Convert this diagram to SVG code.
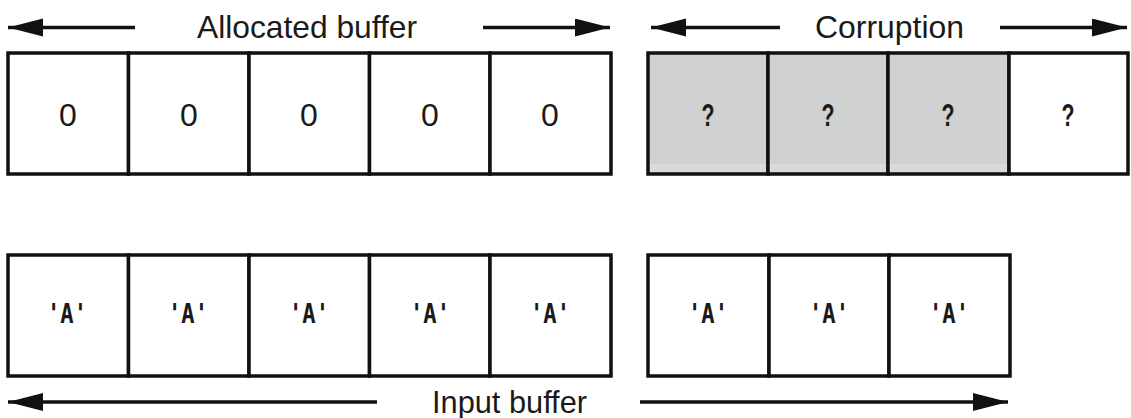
<svg xmlns="http://www.w3.org/2000/svg" width="1131" height="418" viewBox="0 0 1131 418">
<style>
.cell{fill:#ffffff;stroke:#111111;stroke-width:3.5}
.gray{fill:#d0d2d1}
.lbl{font-family:"Liberation Sans",Arial,sans-serif;font-size:32px;fill:#1a1a1a}
.zero{font-family:"Liberation Sans",Arial,sans-serif;font-size:32px;fill:#1a1a1a;text-anchor:middle}
.q{font-family:"Liberation Sans",Arial,sans-serif;font-size:32px;font-weight:bold;fill:#1a1a1a;text-anchor:middle}
.a{font-family:"DejaVu Sans Mono","Liberation Mono",monospace;font-size:27px;font-weight:bold;fill:#1a1a1a;text-anchor:middle}
.conn{stroke:#111111;stroke-width:3.5;fill:none;marker-end:url(#ah)}
</style>
<defs>
<marker id="ah" markerUnits="userSpaceOnUse" markerWidth="36" markerHeight="20" refX="35" refY="9" orient="auto">
<path d="M0,0 L35,9 L0,18 Z" fill="#111111"/>
</marker>
</defs>
<rect width="1131" height="418" fill="#ffffff"/>

<g id="labels">
<text id="lbl-allocated" class="lbl" x="197" y="38" textLength="220" lengthAdjust="spacingAndGlyphs">Allocated buffer</text>
<text id="lbl-corruption" class="lbl" x="815" y="38" textLength="149" lengthAdjust="spacingAndGlyphs">Corruption</text>
<text id="lbl-input" class="lbl" x="432" y="413" textLength="155" lengthAdjust="spacingAndGlyphs">Input buffer</text>
</g>

<g id="connectors">
<line class="conn" x1="135" y1="27.5" x2="8" y2="27.5"/>
<line class="conn" x1="483" y1="27.5" x2="610" y2="27.5"/>
<line class="conn" x1="780" y1="27.5" x2="651" y2="27.5"/>
<line class="conn" x1="1000" y1="27.5" x2="1127" y2="27.5"/>
<line class="conn" x1="377" y1="402" x2="8" y2="402"/>
<line class="conn" x1="640" y1="402" x2="1008" y2="402"/>
</g>

<g id="alloc-0"><rect class="cell" x="8" y="53" width="120.5" height="121"/><text class="zero" x="68" y="126">0</text></g>
<g id="alloc-1"><rect class="cell" x="128.5" y="53" width="120.5" height="121"/><text class="zero" x="189" y="126">0</text></g>
<g id="alloc-2"><rect class="cell" x="249" y="53" width="120.5" height="121"/><text class="zero" x="309" y="126">0</text></g>
<g id="alloc-3"><rect class="cell" x="369.5" y="53" width="120.5" height="121"/><text class="zero" x="430" y="126">0</text></g>
<g id="alloc-4"><rect class="cell" x="490" y="53" width="121" height="121"/><text class="zero" x="550" y="126">0</text></g>

<g id="corrupt-0"><rect class="cell gray" x="648" y="53" width="120" height="121"/><rect x="650" y="164" width="116" height="8" fill="#d9dbda"/><text class="q" x="708" y="126" textLength="13" lengthAdjust="spacingAndGlyphs">?</text></g>
<g id="corrupt-1"><rect class="cell gray" x="768" y="53" width="120" height="121"/><rect x="770" y="164" width="116" height="8" fill="#d9dbda"/><text class="q" x="828" y="126" textLength="13" lengthAdjust="spacingAndGlyphs">?</text></g>
<g id="corrupt-2"><rect class="cell gray" x="888" y="53" width="121" height="121"/><rect x="890" y="164" width="117" height="8" fill="#d9dbda"/><text class="q" x="948" y="126" textLength="13" lengthAdjust="spacingAndGlyphs">?</text></g>
<g id="corrupt-3"><rect class="cell" x="1009" y="53" width="119" height="121"/><text class="q" x="1068" y="126" textLength="13" lengthAdjust="spacingAndGlyphs">?</text></g>

<g id="input-0"><rect class="cell" x="8" y="255" width="120.5" height="121"/><text class="a" x="67" y="323" textLength="40" lengthAdjust="spacingAndGlyphs">'A'</text></g>
<g id="input-1"><rect class="cell" x="128.5" y="255" width="120.5" height="121"/><text class="a" x="188" y="323" textLength="40" lengthAdjust="spacingAndGlyphs">'A'</text></g>
<g id="input-2"><rect class="cell" x="249" y="255" width="120.5" height="121"/><text class="a" x="309" y="323" textLength="40" lengthAdjust="spacingAndGlyphs">'A'</text></g>
<g id="input-3"><rect class="cell" x="369.5" y="255" width="120.5" height="121"/><text class="a" x="430" y="323" textLength="40" lengthAdjust="spacingAndGlyphs">'A'</text></g>
<g id="input-4"><rect class="cell" x="490" y="255" width="121" height="121"/><text class="a" x="550" y="323" textLength="40" lengthAdjust="spacingAndGlyphs">'A'</text></g>

<g id="overflow-0"><rect class="cell" x="648" y="255" width="121" height="121"/><text class="a" x="708" y="323" textLength="40" lengthAdjust="spacingAndGlyphs">'A'</text></g>
<g id="overflow-1"><rect class="cell" x="769" y="255" width="120" height="121"/><text class="a" x="829" y="323" textLength="40" lengthAdjust="spacingAndGlyphs">'A'</text></g>
<g id="overflow-2"><rect class="cell" x="889" y="255" width="121" height="121"/><text class="a" x="949" y="323" textLength="40" lengthAdjust="spacingAndGlyphs">'A'</text></g>
</svg>
